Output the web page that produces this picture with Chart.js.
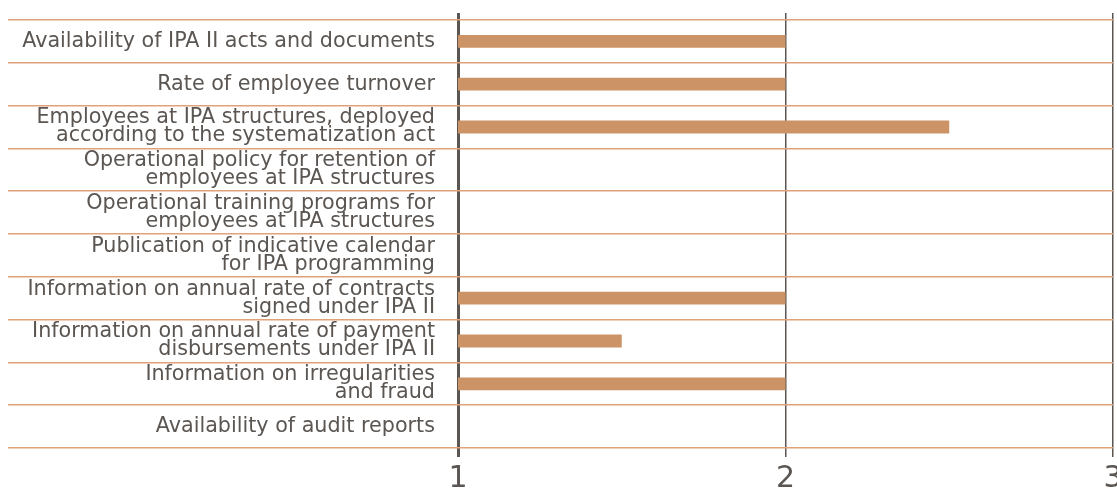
<!DOCTYPE html>
<html>
<head>
<meta charset="utf-8">
<script src="https://cdn.jsdelivr.net/npm/chart.js@4"></script>
<style>
html,body{margin:0;padding:0;background:#fff;}
#wrap{width:1117px;height:491px;}
</style>
</head>
<body>
<div id="wrap"><canvas id="c" width="1117" height="491"></canvas></div>
<script>
const categories = [
  "Availability of IPA II acts and documents",
  "Rate of employee turnover",
  ["Employees at IPA structures, deployed", "according to the systematization act"],
  ["Operational policy for retention of", "employees at IPA structures"],
  ["Operational training programs for", "employees at IPA structures"],
  ["Publication of indicative calendar", "for IPA programming"],
  ["Information on annual rate of contracts", "signed under IPA II"],
  ["Information on annual rate of payment", "disbursements under IPA II"],
  ["Information on irregularities", "and fraud"],
  "Availability of audit reports"
];
const scores = [2, 2, 2.5, null, null, null, 2, 1.5, 2, null];
const xTicks = [1, 2, 3];

const textColor = '#5b5652';
const vLineColor = '#5b5652';
const hLineColor = '#dfa27a';
const barColor = '#cc9466';

const vWidth = (ctx) => (ctx.tick && ctx.tick.value === 1) ? 3 : 1.5;

new Chart(document.getElementById('c'), {
  type: 'bar',
  data: {
    labels: categories,
    datasets: [{
      data: scores,
      backgroundColor: barColor,
      borderWidth: 0,
      categoryPercentage: 1,
      barPercentage: 0.3
    }]
  },
  options: {
    indexAxis: 'y',
    responsive: false,
    animation: false,
    devicePixelRatio: 1,
    layout: { padding: { top: 13, right: 4, left: 0, bottom: 0 } },
    plugins: { legend: { display: false }, tooltip: { enabled: false } },
    scales: {
      x: {
        type: 'linear',
        position: 'bottom',
        min: 1, max: 3,
        z: 1,
        afterBuildTicks: (s) => { s.ticks = xTicks.map(v => ({ value: v })); },
        afterFit: (s) => { s.height = 43; s.paddingRight = 0; s.paddingLeft = 0; },
        border: { display: false },
        grid: { color: vLineColor, lineWidth: vWidth, tickLength: 9, drawTicks: true },
        ticks: { color: textColor, padding: 4, font: { family: 'DejaVu Sans', size: 30, weight: 'normal' } }
      },
      x2: {
        type: 'linear',
        position: 'top',
        min: 1, max: 3,
        afterBuildTicks: (s) => { s.ticks = xTicks.map(v => ({ value: v })); },
        afterFit: (s) => { s.height = 7; s.paddingRight = 0; s.paddingLeft = 0; },
        border: { display: false },
        grid: { color: vLineColor, lineWidth: vWidth, tickLength: 7, drawOnChartArea: false },
        ticks: { display: false }
      },
      y: {
        type: 'category',
        offset: true,
        afterFit: (s) => { s.width = 458; },
        border: { display: false },
        grid: { color: hLineColor, lineWidth: 1.5, offset: true, tickLength: 450 },
        ticks: { color: textColor, padding: -427, font: { family: 'DejaVu Sans', size: 20.7, weight: 'normal', lineHeight: 0.87 } }
      }
    }
  }
});
</script>
</body>
</html>
